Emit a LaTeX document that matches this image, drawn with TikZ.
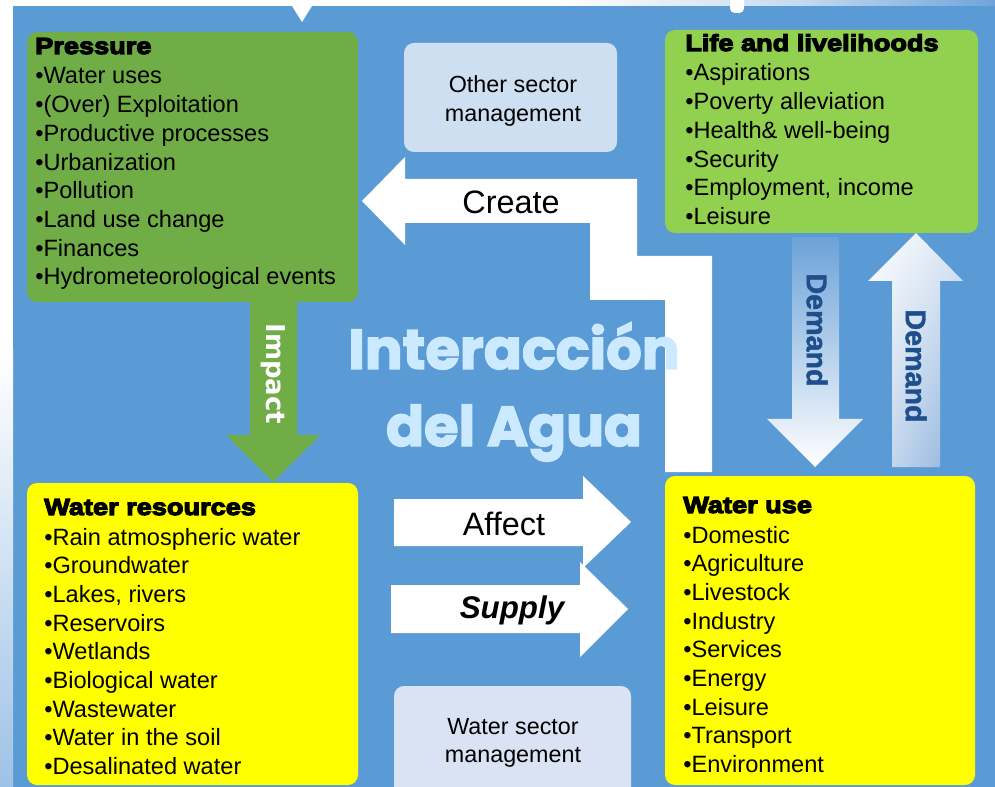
\documentclass[tikz,border=0pt]{standalone}
\usepackage{fontspec}
\setmainfont{Liberation Sans}
\newfontfamily\heavyfont[BoldFeatures={FakeBold=5,FakeStretch=1.17}]{Liberation Sans}
\newfontfamily\thickfont[BoldFeatures={FakeBold=1.5}]{Liberation Sans}
\newfontfamily\titlefont[BoldFeatures={FakeBold=2.5}]{Poppins}
\newfontfamily\verdfont{DejaVu Sans}
\usetikzlibrary{fit,shadings}

\definecolor{bgblue}{HTML}{5B9BD5}
\definecolor{pressgreen}{HTML}{70AD47}
\definecolor{lifegreen}{HTML}{92D050}
\definecolor{wateryellow}{HTML}{FFFF00}
\definecolor{othermgmt}{HTML}{CEDFF1}
\definecolor{watermgmt}{HTML}{DAE3F3}
\definecolor{titleblue}{HTML}{CCEAFF}
\definecolor{demandblue}{HTML}{1F4E8C}

\tikzset{
  panel/.style={inner sep=0pt, rounded corners=7.5pt},
  item/.style={anchor=base west, inner sep=0pt, font=\fontsize{17.7}{20}\selectfont},
  heading/.style={anchor=base west, inner sep=0pt, font=\heavyfont\bfseries\fontsize{17.4}{20}\selectfont},
  mgmt/.style={anchor=base, inner sep=0pt, font=\fontsize{17.5}{20}\selectfont},
  arrowlabel/.style={anchor=base, inner sep=0pt, font=\fontsize{24.3}{24}\selectfont},
  demandlabel/.style={rotate=-90, inner sep=0pt, text=demandblue, font=\thickfont\bfseries\fontsize{21.5}{21.5}\selectfont},
  bigtitle/.style={anchor=base, inner sep=0pt, text=titleblue, font=\titlefont\bfseries\fontsize{42}{42}\selectfont},
  blockarrow/.style={fill=white}
}

\begin{document}
\begin{tikzpicture}[x=0.75pt,y=-0.75pt]
\useasboundingbox (0,0) rectangle (995,787);
\clip (0,0) rectangle (995,787);

% page background and margins
\fill[bgblue] (13,6) rectangle (995,787);
\fill[white] (0,0) rectangle (13,350);
\shade[top color=white, bottom color={rgb,255:red,158;green,194;blue,230}] (0,350) rectangle (13,787);
\fill[white] (0,0) rectangle (560,6);
\shade[left color=white, right color={rgb,255:red,197;green,218;blue,239}] (560,0) rectangle (800,6);
\shade[left color={rgb,255:red,197;green,218;blue,239}, right color={rgb,255:red,111;green,164;blue,218}] (800,0) rectangle (995,6);
\fill[white] (292,6) -- (312,6) -- (302,22) -- cycle;
\fill[white, rounded corners=3.5pt] (730,-10) rectangle (744,13);

% block arrows
\fill[blockarrow] (405,179) -- (637,179) -- (637,256) -- (712,256) -- (712,472)
  -- (665,472) -- (665,300) -- (590,300) -- (590,223) -- (405,223)
  -- (405,245) -- (362,201) -- (405,157) -- cycle;
\fill[pressgreen] (250,300) -- (297,300) -- (297,435) -- (320,435) -- (273,482)
  -- (226,435) -- (250,435) -- cycle;
\shade[top color={rgb,255:red,108;green,162;blue,216}, bottom color=white]
  (792,237) -- (839,237) -- (839,419) -- (863,419) -- (815,467) -- (767,419) -- (792,419) -- cycle;
\shade[upper left=white, upper right={rgb,255:red,220;green,231;blue,244},
       lower left={rgb,255:red,213;green,226;blue,242}, lower right={rgb,255:red,140;green,176;blue,220}]
  (916,233) -- (963,281) -- (940,281) -- (940,467) -- (892,467) -- (892,281) -- (868,281) -- cycle;
\fill[blockarrow] (394,499) -- (583,499) -- (583,476) -- (631,522) -- (583,568) -- (583,546) -- (394,546) -- cycle;
\fill[blockarrow] (391,585) -- (580,585) -- (580,562) -- (628,609) -- (580,657) -- (580,633) -- (391,633) -- cycle;

% panels
\node[panel, fill=pressgreen, fit={(27,32) (358,302)}] (pressure) {};
\node[panel, fill=lifegreen, fit={(665,30) (978,233)}] (life) {};
\node[panel, fill=othermgmt, fit={(404,43) (617,152)}] (othersector) {};
\node[panel, fill=wateryellow, fit={(27,483) (358,785)}] (resources) {};
\node[panel, fill=wateryellow, fit={(665,476) (975,785)}] (wateruse) {};
\node[panel, fill=watermgmt, fit={(394,686) (631,810)}] (watersector) {};

% panel contents
\node[heading] (pressurehead) at (35,54) {Pressure};
\foreach \txt [count=\k] in {Water uses, {(Over) Exploitation}, Productive processes, Urbanization,
    Pollution, Land use change, Finances, Hydrometeorological events}
  \node[item] (pr\k) at (35,{84+28.7*(\k-1)}) {\textbullet\txt};

\node[heading] (lifehead) at (685,51) {Life and livelihoods};
\foreach \txt [count=\k] in {Aspirations, Poverty alleviation, Health\& well-being, Security,
    {Employment, income}, Leisure}
  \node[item] (lf\k) at (685,{81+28.7*(\k-1)}) {\textbullet\txt};

\node[heading] (resourceshead) at (44,515) {Water resources};
\foreach \txt [count=\k] in {Rain atmospheric water, Groundwater, {Lakes, rivers}, Reservoirs,
    Wetlands, Biological water, Wastewater, Water in the soil, Desalinated water}
  \node[item] (wr\k) at (44,{545+28.7*(\k-1)}) {\textbullet\txt};

\node[heading] (usehead) at (683,513) {Water use};
\foreach \txt [count=\k] in {Domestic, Agriculture, Livestock, Industry, Services, Energy,
    Leisure, Transport, Environment}
  \node[item] (wu\k) at (683,{543+28.7*(\k-1)}) {\textbullet\txt};

\node[mgmt] (other1) at (513,93) {Other sector};
\node[mgmt] (other2) at (513,121.5) {management};
\node[mgmt] (water1) at (513,734) {Water sector};
\node[mgmt] (water2) at (513,762) {management};

% arrow labels
\node[arrowlabel] (create) at (511,214) {Create};
\node[arrowlabel] (affect) at (504,535) {Affect};
\node[arrowlabel, font=\bfseries\itshape\fontsize{23.5}{23.5}\selectfont] (supply) at (512,618) {Supply};
\node[rotate=-90, inner sep=0pt, text=white, font=\verdfont\bfseries\fontsize{19.5}{19.5}\selectfont] (impact) at (273,374) {Impact};
\node[demandlabel] (demanddown) at (817,330) {Demand};
\node[demandlabel] (demandup) at (916,366) {Demand};

% title
\node[bigtitle] (title1) at (514,369) {Interacción};
\node[bigtitle] (title2) at (514,446) {del Agua};
\end{tikzpicture}
\end{document}
